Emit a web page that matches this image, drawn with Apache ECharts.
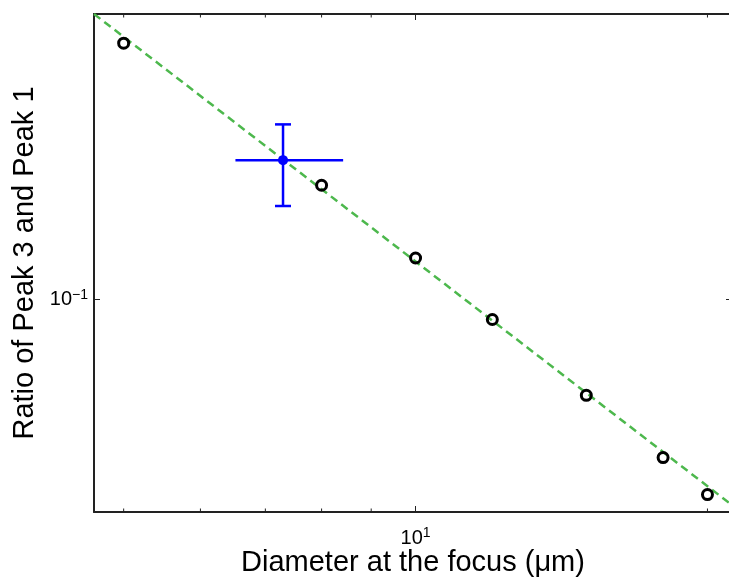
<!DOCTYPE html>
<html>
<head>
<meta charset="utf-8">
<script src="https://cdn.jsdelivr.net/npm/echarts@6/dist/echarts.min.js"></script>
<style>
html,body{margin:0;padding:0;background:#fff;}
#chart{width:729px;height:578px;}
</style>
</head>
<body>
<div id="chart"></div>
<script>
// ---- data ----
const xMin = 4.66, xMax = 21.2;
const yMin = 0.03, yMax = 0.5;
const diameters = [5, 8, 10, 12, 15, 18, 20];
const ratios = [0.424, 0.190, 0.126, 0.089, 0.058, 0.0408, 0.0331];
const measX = [7.30];
const measY = [0.219];
const measXLo = [6.52];
const measXHi = [8.42];
const measYLo = [0.169];
const measYHi = [0.268];
const fitX = [4.66, 21.2];
const fitY = [0.5, 0.0312];
const xMinorTicks = [5, 6, 7, 8, 9, 20];
const yMinorTicks = [0.04, 0.05, 0.06, 0.07, 0.08, 0.09, 0.2, 0.3, 0.4];
const xTitle = 'Diameter at the focus (\u03bcm)';
const yTitle = 'Ratio of Peak 3 and Peak 1';

const FONT = "'Liberation Sans', Arial, Helvetica, sans-serif";
const AXIS_COLOR = '#222';

function isPow10(v) {
  const l = Math.log10(v);
  return Math.abs(l - Math.round(l)) < 1e-6;
}
function powLabel(v) {
  if (!isPow10(v)) return '';
  const e = Math.round(Math.log10(v));
  return '{b|10}{s|' + (e < 0 ? '\u2212' + (-e) : e) + '}';
}
const richSup = {
  b: { fontSize: 20, lineHeight: 22, verticalAlign: 'bottom', fontFamily: FONT, color: '#000' },
  s: { fontSize: 14, lineHeight: 15, verticalAlign: 'top', padding: [0, 0, 14, 0], fontFamily: FONT, color: '#000' }
};
const labelBase = { fontSize: 20, fontFamily: FONT, color: '#000' };

const chart = echarts.init(document.getElementById('chart'), null, { renderer: 'canvas' });

const xAxisBase = {
  type: 'log', min: xMin, max: xMax, logBase: 10,
  axisLine: { show: true, lineStyle: { color: AXIS_COLOR, width: 2 } },
  axisTick: { show: true, inside: true, length: 6, lineStyle: { color: AXIS_COLOR, width: 1 } },
  splitLine: { show: false },
  minorTick: { show: false },
  minorSplitLine: { show: false }
};
const yAxisBase = {
  type: 'log', min: yMin, max: yMax, logBase: 10,
  axisLine: { show: true, lineStyle: { color: AXIS_COLOR, width: 2 } },
  axisTick: { show: true, inside: true, length: 6, lineStyle: { color: AXIS_COLOR, width: 1 } },
  splitLine: { show: false },
  minorTick: { show: false },
  minorSplitLine: { show: false }
};

function tickRenderer(isX) {
  return function (params, api) {
    const v = api.value(0);
    const len = 3.5;
    const style = { stroke: AXIS_COLOR, lineWidth: 1 };
    if (isX) {
      const pb = api.coord([v, yMin]);
      const pt = api.coord([v, yMax]);
      return { type: 'group', children: [
        { type: 'line', shape: { x1: pb[0], y1: pb[1], x2: pb[0], y2: pb[1] - len }, style: style },
        { type: 'line', shape: { x1: pt[0], y1: pt[1], x2: pt[0], y2: pt[1] + len }, style: style }
      ] };
    } else {
      const pl = api.coord([xMin, v]);
      const pr = api.coord([xMax, v]);
      return { type: 'group', children: [
        { type: 'line', shape: { x1: pl[0], y1: pl[1], x2: pl[0] + len, y2: pl[1] }, style: style },
        { type: 'line', shape: { x1: pr[0], y1: pr[1], x2: pr[0] - len, y2: pr[1] }, style: style }
      ] };
    }
  };
}

const option = {
  backgroundColor: '#fff',
  animation: false,
  grid: { left: 94, top: 14, width: 638, height: 498, containLabel: false, outerBoundsMode: 'none' },
  xAxis: [
    Object.assign({}, xAxisBase, {
      position: 'bottom',
      name: xTitle, nameLocation: 'middle', nameGap: 36, nameMoveOverlap: false,
      nameTextStyle: { fontSize: 29, fontFamily: FONT, color: '#000' },
      axisLabel: Object.assign({ show: true, margin: 14, formatter: powLabel, rich: richSup,
                   showMinLabel: false, showMaxLabel: false }, labelBase)
    }),
    Object.assign({}, xAxisBase, {
      position: 'top', axisLabel: { show: false }
    })
  ],
  yAxis: [
    Object.assign({}, yAxisBase, {
      position: 'left',
      name: yTitle, nameLocation: 'middle', nameGap: 55, nameMoveOverlap: false,
      nameTextStyle: { fontSize: 29, fontFamily: FONT, color: '#000' },
      axisLabel: Object.assign({ show: true, margin: 6, formatter: powLabel, rich: richSup,
                   showMinLabel: false, showMaxLabel: false }, labelBase)
    }),
    Object.assign({}, yAxisBase, {
      position: 'right', axisLabel: { show: false }
    })
  ],
  series: [
    {
      type: 'line',
      data: fitX.map((x, i) => [x, fitY[i]]),
      showSymbol: false,
      symbol: 'none',
      clip: true,
      lineStyle: { color: '#4DB84D', width: 2.5, type: [8, 5] },
      z: 2
    },
    {
      type: 'scatter',
      data: diameters.map((x, i) => [x, ratios[i]]),
      symbol: 'circle',
      symbolSize: 10,
      itemStyle: { color: 'rgba(0,0,0,0)', borderColor: '#000', borderWidth: 3, opacity: 1 },
      z: 3
    },
    {
      type: 'custom',
      data: measX.map((x, i) => [x, measY[i], measXLo[i], measXHi[i], measYLo[i], measYHi[i]]),
      renderItem: function (params, api) {
        const c = api.coord([api.value(0), api.value(1)]);
        const l = api.coord([api.value(2), api.value(1)]);
        const r = api.coord([api.value(3), api.value(1)]);
        const b = api.coord([api.value(0), api.value(4)]);
        const t = api.coord([api.value(0), api.value(5)]);
        const cap = 8;
        const st = { stroke: '#0000FF', lineWidth: 2.5 };
        return { type: 'group', children: [
          { type: 'line', shape: { x1: l[0], y1: l[1], x2: r[0], y2: r[1] }, style: st },
          { type: 'line', shape: { x1: b[0], y1: b[1], x2: t[0], y2: t[1] }, style: st },
          { type: 'line', shape: { x1: t[0] - cap, y1: t[1], x2: t[0] + cap, y2: t[1] }, style: st },
          { type: 'line', shape: { x1: b[0] - cap, y1: b[1], x2: b[0] + cap, y2: b[1] }, style: st },
          { type: 'circle', shape: { cx: c[0], cy: c[1], r: 5 }, style: { fill: '#0000FF' } }
        ] };
      },
      z: 4
    },
    {
      type: 'custom',
      data: xMinorTicks.map(v => [v, yMin]),
      renderItem: tickRenderer(true),
      silent: true,
      z: 1
    },
    {
      type: 'custom',
      data: yMinorTicks.map(v => [xMin, v]),
      renderItem: tickRenderer(false),
      silent: true,
      z: 1
    }
  ]
};
chart.setOption(option);
</script>
</body>
</html>
